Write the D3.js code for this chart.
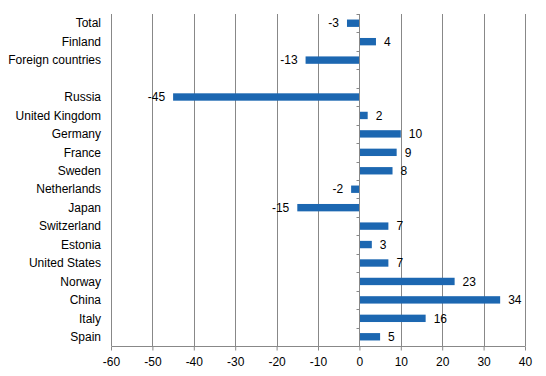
<!DOCTYPE html>
<html>
<head>
  <meta charset="utf-8">
  <script src="https://d3js.org/d3.v7.min.js"></script>
  <style>
    body { margin: 0; background: #fff; }
    text { font-family: "Liberation Sans", Arial, sans-serif; font-size: 12px; fill: #000; }
  </style>
</head>
<body>
<div id="chart"></div>
<script>
// categories top to bottom ("" is the blank gap row)
var categories = ["Total", "Finland", "Foreign countries", "", "Russia", "United Kingdom",
  "Germany", "France", "Sweden", "Netherlands", "Japan", "Switzerland", "Estonia",
  "United States", "Norway", "China", "Italy", "Spain"];
var values = [-3, 4, -13, null, -45, 2, 10, 9, 8, -2, -15, 7, 3, 7, 23, 34, 16, 5];
var xTicks = [-60, -50, -40, -30, -20, -10, 0, 10, 20, 30, 40];

var W = 546, H = 376;
var margin = { top: 14, right: 21, bottom: 30, left: 111 };
var width = W - margin.left - margin.right;
var height = H - margin.top - margin.bottom;

var svg = d3.select("#chart").append("svg")
  .attr("width", W)
  .attr("height", H);

var g = svg.append("g")
  .attr("transform", "translate(" + margin.left + "," + margin.top + ")");

var x = d3.scaleLinear().domain([-60, 40]).range([0, width]);
var y = d3.scaleBand().domain(d3.range(categories.length)).range([0, height]).paddingInner(0.6).paddingOuter(0.3);
var step = y.step();

// vertical gridlines
g.selectAll(".grid")
  .data(xTicks)
  .enter().append("line")
  .attr("x1", d => Math.round(x(d)) + 0.5)
  .attr("x2", d => Math.round(x(d)) + 0.5)
  .attr("y1", 0)
  .attr("y2", height)
  .attr("stroke", "#888");

// bottom axis (plain hyphen minus like the original)
var xAxis = g.append("g")
  .attr("transform", "translate(0," + (Math.round(height) + 0.5) + ")")
  .call(d3.axisBottom(x).tickValues(xTicks).tickSize(4).tickPadding(5).tickFormat(d => String(d)));
xAxis.select(".domain").attr("stroke", "#888").attr("d", "M0.5,0H" + (width + 0.5));
xAxis.selectAll(".tick line").attr("stroke", "#888");
xAxis.selectAll(".tick text").attr("font-size", null).attr("font-family", null).attr("dy", "0.85em");

// bars
g.selectAll(".bar")
  .data(values.map((v, i) => ({ v: v, i: i })).filter(d => d.v !== null))
  .enter().append("rect")
  .attr("class", "bar")
  .attr("x", d => x(Math.min(0, d.v)))
  .attr("width", d => Math.abs(x(d.v) - x(0)))
  .attr("y", d => y(d.i))
  .attr("height", y.bandwidth())
  .attr("fill", "#1c67b1");

// zero axis with small ticks on band boundaries
var x0 = Math.round(x(0)) + 0.5;
g.append("line")
  .attr("x1", x0).attr("x2", x0)
  .attr("y1", 0).attr("y2", height)
  .attr("stroke", "#888");
g.selectAll(".ytick")
  .data(d3.range(categories.length + 1))
  .enter().append("line")
  .attr("x1", x0 - 3).attr("x2", x0)
  .attr("y1", d => Math.round(d * step) + 0.5)
  .attr("y2", d => Math.round(d * step) + 0.5)
  .attr("stroke", "#888");

// category labels
g.selectAll(".cat")
  .data(categories)
  .enter().append("text")
  .attr("x", -10)
  .attr("y", (d, i) => y(i) + y.bandwidth() / 2)
  .attr("dy", "0.35em")
  .attr("text-anchor", "end")
  .text(d => d);

// value labels
g.selectAll(".val")
  .data(values.map((v, i) => ({ v: v, i: i })).filter(d => d.v !== null))
  .enter().append("text")
  .attr("x", d => d.v < 0 ? x(d.v) - 8 : x(d.v) + 8)
  .attr("y", d => y(d.i) + y.bandwidth() / 2)
  .attr("dy", "0.35em")
  .attr("text-anchor", d => d.v < 0 ? "end" : "start")
  .text(d => d.v);
</script>
</body>
</html>
